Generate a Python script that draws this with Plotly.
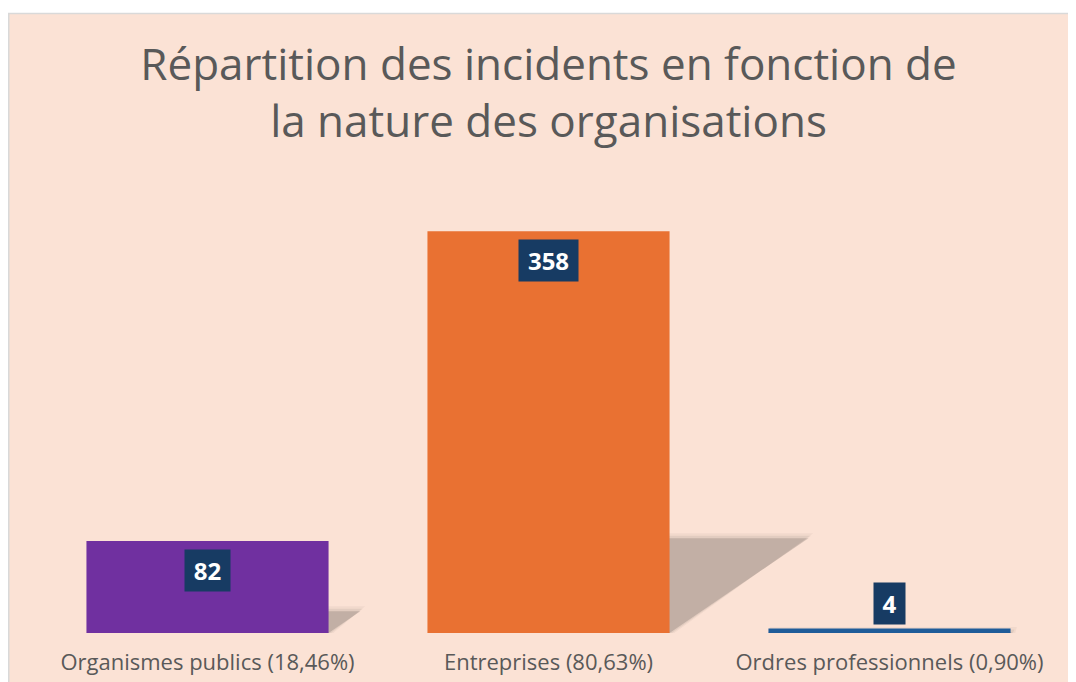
import plotly.graph_objects as go

# ---- data ----
categories = ["Organismes publics (18,46%)", "Entreprises (80,63%)", "Ordres professionnels (0,90%)"]
values = [82, 358, 4]
bar_colors = ["#7030A0", "#E97132", "#1F5C99"]
title_text = "Répartition des incidents en fonction de<br>la nature des organisations"

# ---- layout constants (page has an 8px body margin) ----
OFF = 8
W, H = 1076 - OFF, 682 - OFF
ML, MR, MT, MB = 37 - OFF, 16, 184 - OFF, 49
PW, PH = W - ML - MR, H - MT - MB
YMAX = 400
BAR_W = 0.71
BG = "#FBE2D5"
TXT = "#595959"
LABEL_BG = "#173B63"
FONT = "Open Sans"

xs = list(range(len(categories)))
px_per_unit = PH / YMAX
px_per_cat = PW / 3.0

fig = go.Figure()
fig.add_trace(go.Bar(
    x=xs, y=values, width=BAR_W,
    marker=dict(color=bar_colors, line=dict(width=0)),
    hoverinfo="skip",
))

def px_to_paper_x(p):
    return (p - ML) / PW
def px_to_paper_y(p):
    return (H - MB - p) / PH

shapes = []
# background panel with left/top border (paper coords)
shapes.append(dict(
    type="rect", xref="paper", yref="paper", layer="below",
    x0=px_to_paper_x(0.75), x1=1.2, y0=-0.3, y1=px_to_paper_y(13.5 - OFF),
    fillcolor=BG, line=dict(color="#D9D9D9", width=1.5),
))

# perspective shadows behind the bars (derived from values)
SH_K = 0.236          # shadow height fraction
SH_SHIFT_PX = 0.346   # horizontal shift in px per px of bar height
for i, v in enumerate(values):
    top = SH_K * v
    shift = SH_SHIFT_PX * v * px_per_unit / px_per_cat
    for grow, alpha in [(0.014, 0.04), (0.007, 0.06), (0.0, 0.14)]:
        gy = grow * YMAX * 0.8
        x0 = i - BAR_W / 2
        x1 = i + BAR_W / 2 + grow
        path = (f"M {x0},{0} L {x1},{0} "
                f"L {x1 + shift},{top + gy} L {x0 + shift},{top + gy} Z")
        shapes.append(dict(
            type="path", xref="x", yref="y", layer="below", path=path,
            fillcolor=f"rgba(0,0,0,{alpha})", line=dict(width=0),
        ))

annotations = []
for i, v in enumerate(values):
    s = str(v)
    box_w = len(s) * 14 + 17
    inside = v * px_per_unit > 60
    annotations.append(dict(
        x=i, y=v, xref="x", yref="y", text=f"<b>{s}</b>", showarrow=False,
        font=dict(family=FONT, size=24, color="white"),
        bgcolor=LABEL_BG, borderpad=0, width=box_w, height=41,
        xanchor="center", yanchor="top" if inside else "bottom",
        yshift=-8 if inside else 3.5, valign="middle",
    ))

fig.update_layout(
    width=W, height=H, autosize=False,
    margin=dict(l=ML, r=MR, t=MT, b=MB, autoexpand=False),
    paper_bgcolor="white", plot_bgcolor="rgba(0,0,0,0)",
    showlegend=False,
    title=dict(text=title_text, x=0.5, xref="paper", xanchor="center",
               y=1 - (80 - OFF) / H, yref="container", yanchor="top",
               font=dict(family=FONT, size=44, color=TXT)),
    xaxis=dict(range=[-0.5, 2.5], tickvals=xs, ticktext=categories,
               showgrid=False, zeroline=False, showline=False, ticks="",
               ticklabelstandoff=14, automargin=False,
               tickfont=dict(family=FONT, size=22, color=TXT)),
    yaxis=dict(range=[0, YMAX], visible=False, showgrid=False, zeroline=False,
               automargin=False),
    shapes=shapes, annotations=annotations,
)

fig.write_html("out.html")
